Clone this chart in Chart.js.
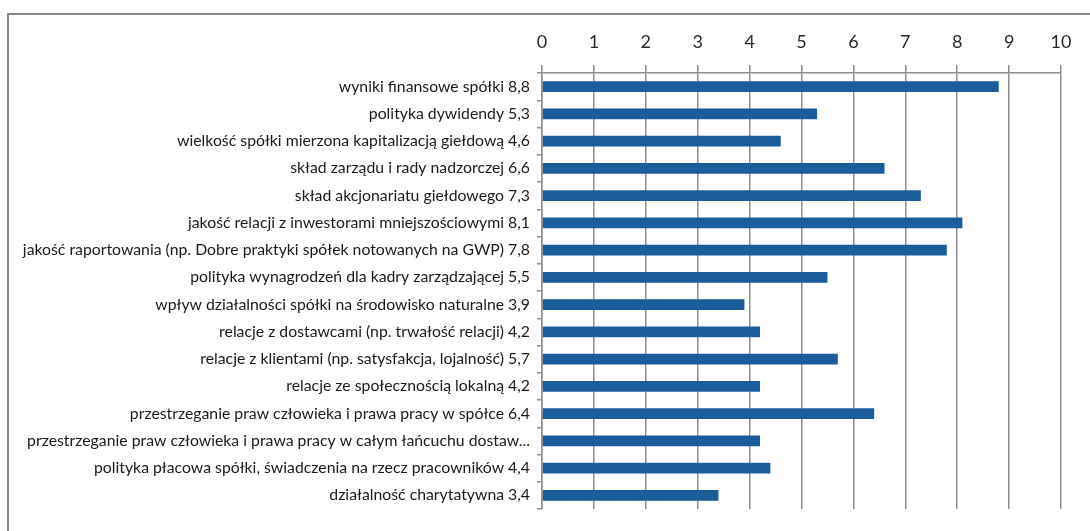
<!DOCTYPE html>
<html>
<head>
<meta charset="utf-8">
<script src="https://cdn.jsdelivr.net/npm/chart.js@4.4.0/dist/chart.umd.min.js"></script>
<style>
  html, body { margin: 0; padding: 0; background: #ffffff; }
  #wrap { width: 1090px; height: 531px; position: relative; }
</style>
</head>
<body>
<div id="wrap"><canvas id="c" width="1090" height="531"></canvas></div>
<script>
// Category labels (as printed, with the average score)
const categories = [
  'wyniki finansowe spółki 8,8',
  'polityka dywidendy 5,3',
  'wielkość spółki mierzona kapitalizacją giełdową 4,6',
  'skład zarządu i rady nadzorczej 6,6',
  'skład akcjonariatu giełdowego 7,3',
  'jakość relacji z inwestorami mniejszościowymi 8,1',
  'jakość raportowania (np. Dobre praktyki spółek notowanych na GWP) 7,8',
  'polityka wynagrodzeń dla kadry zarządzającej 5,5',
  'wpływ działalności spółki na środowisko naturalne 3,9',
  'relacje z dostawcami (np. trwałość relacji) 4,2',
  'relacje z klientami (np. satysfakcja, lojalność) 5,7',
  'relacje ze społecznością lokalną 4,2',
  'przestrzeganie praw człowieka i prawa pracy w spółce 6,4',
  'przestrzeganie praw człowieka i prawa pracy w całym łańcuchu dostaw...',
  'polityka płacowa spółki, świadczenia na rzecz pracowników 4,4',
  'działalność charytatywna 3,4'
];

// Average score per category
const scores = [8.8, 5.3, 4.6, 6.6, 7.3, 8.1, 7.8, 5.5, 3.9, 4.2, 5.7, 4.2, 6.4, 4.2, 4.4, 3.4];

// Value axis range
const axisMin = 0;
const axisMax = 10;
const axisStep = 1;

// Frame around the whole figure
const framePlugin = {
  id: 'frame',
  beforeDraw(chart) {
    const ctx = chart.ctx;
    ctx.save();
    ctx.strokeStyle = '#8a8a8a';
    ctx.lineWidth = 2;
    ctx.strokeRect(8, 14, 1200, 1000);
    ctx.restore();
  }
};

new Chart(document.getElementById('c'), {
  type: 'bar',
  data: {
    labels: categories,
    datasets: [{
      data: scores,
      backgroundColor: '#1b5c9c',
      borderWidth: 0,
      categoryPercentage: 0.8,
      barPercentage: 0.5
    }]
  },
  options: {
    indexAxis: 'y',
    responsive: false,
    animation: false,
    layout: { padding: { left: 0, top: 0, right: 29, bottom: 22 } },
    plugins: {
      legend: { display: false },
      tooltip: { enabled: false }
    },
    scales: {
      x: {
        position: 'top',
        min: axisMin,
        max: axisMax,
        afterFit(scale) { scale.height = 73; },
        ticks: {
          stepSize: axisStep,
          padding: 12,
          color: '#2a2a2a',
          font: { family: 'Lato', size: 18 }
        },
        grid: {
          color: '#8f8f8f',
          lineWidth: 1.5,
          tickLength: 8
        },
        border: { display: true, color: '#8f8f8f', width: 1.5 }
      },
      y: {
        afterFit(scale) { scale.width = 542; },
        ticks: {
          padding: 7,
          color: '#1a1a1a',
          autoSkip: false,
          font: { family: 'Lato', size: 15.8 }
        },
        grid: {
          drawOnChartArea: false,
          color: '#8f8f8f',
          lineWidth: 1.5,
          tickLength: 5
        },
        border: { display: true, color: '#8f8f8f', width: 1.5 }
      }
    }
  },
  plugins: [framePlugin]
});
</script>
</body>
</html>
